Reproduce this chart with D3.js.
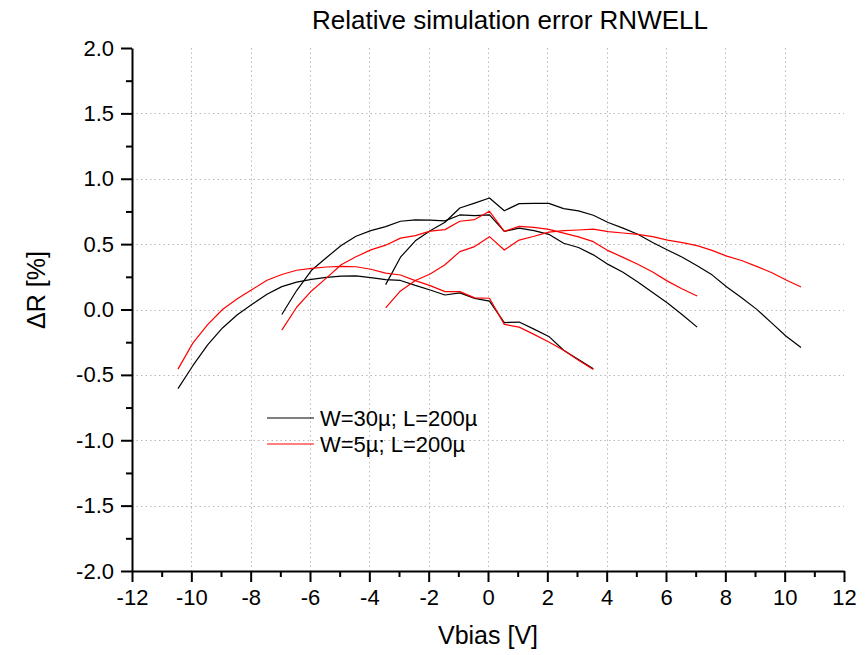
<!DOCTYPE html>
<html>
<head>
<meta charset="utf-8">
<script src="https://cdn.jsdelivr.net/npm/d3@7/dist/d3.min.js"></script>
<style>
  html, body { margin: 0; padding: 0; background: #fff; }
  svg { display: block; }
  text { font-family: "Liberation Sans", Arial, Helvetica, sans-serif; fill: #000; }
</style>
</head>
<body>
<svg id="chart" width="865" height="655"></svg>
<script>
// ---- data ----
const xA = [-10.45,-9.95,-9.45,-8.95,-8.45,-7.95,-7.45,-6.95,-6.45,-5.95,-5.45,-4.95,-4.45,-3.95,-3.45,-2.95,-2.45,-1.95,-1.45,-0.95,-0.45,0.05,0.55,1.05,1.55,2.05,2.55,3.05,3.55];
const xB = [-6.95,-6.45,-5.95,-5.45,-4.95,-4.45,-3.95,-3.45,-2.95,-2.45,-1.95,-1.45,-0.95,-0.45,0.05,0.55,1.05,1.55,2.05,2.55,3.05,3.55,4.05,4.55,5.05,5.55,6.05,6.55,7.05];
const xC = [-3.45,-2.95,-2.45,-1.95,-1.45,-0.95,-0.45,0.05,0.55,1.05,1.55,2.05,2.55,3.05,3.55,4.05,4.55,5.05,5.55,6.05,6.55,7.05,7.55,8.05,8.55,9.05,9.55,10.05,10.55];

// W=30µ (black)
const w30A = [-0.605,-0.43,-0.27,-0.141,-0.04,0.04,0.116,0.175,0.209,0.231,0.245,0.256,0.257,0.244,0.228,0.222,0.184,0.149,0.111,0.127,0.085,0.064,-0.10,-0.096,-0.15,-0.206,-0.312,-0.383,-0.454];
const w30B = [-0.038,0.145,0.30,0.396,0.49,0.56,0.603,0.634,0.675,0.686,0.683,0.678,0.723,0.718,0.723,0.597,0.623,0.603,0.575,0.507,0.474,0.418,0.345,0.285,0.21,0.13,0.05,-0.04,-0.135];
const w30C = [0.19,0.40,0.525,0.603,0.667,0.776,0.814,0.853,0.755,0.81,0.812,0.812,0.772,0.754,0.721,0.665,0.622,0.576,0.513,0.455,0.40,0.335,0.265,0.172,0.09,0.003,-0.10,-0.205,-0.29];
// W=5µ (red)
const w5A = [-0.456,-0.257,-0.116,0.0,0.083,0.153,0.224,0.268,0.30,0.315,0.325,0.33,0.327,0.308,0.278,0.264,0.221,0.183,0.137,0.137,0.089,0.086,-0.114,-0.135,-0.19,-0.249,-0.312,-0.388,-0.459];
const w5B = [-0.158,0.017,0.142,0.24,0.342,0.403,0.456,0.492,0.546,0.565,0.599,0.611,0.675,0.688,0.751,0.598,0.636,0.628,0.613,0.584,0.555,0.519,0.45,0.399,0.346,0.287,0.217,0.157,0.103];
const w5C = [0.013,0.142,0.222,0.272,0.342,0.443,0.481,0.557,0.455,0.531,0.56,0.592,0.603,0.608,0.615,0.595,0.585,0.575,0.557,0.53,0.512,0.488,0.452,0.408,0.375,0.33,0.283,0.225,0.172];

const xTicks = [-12,-10,-8,-6,-4,-2,0,2,4,6,8,10,12];
const xMinor = [-11,-9,-7,-5,-3,-1,1,3,5,7,9,11];
const yTicks = [-2.0,-1.5,-1.0,-0.5,0.0,0.5,1.0,1.5,2.0];
const yMinor = [-1.75,-1.25,-0.75,-0.25,0.25,0.75,1.25,1.75];

const seriesNames = ["W=30\u00b5; L=200\u00b5", "W=5\u00b5; L=200\u00b5"];
const seriesColors = ["#000000", "#ff0000"];

const titleText = "Relative simulation error RNWELL";
const xLabel = "Vbias [V]";
const yLabel = "\u0394R [%]";

// ---- layout ----
const L = 132, R = 844, T = 48, B = 571;
const svg = d3.select("#chart");
const x = d3.scaleLinear().domain([-12, 12]).range([L, R]);
const y = d3.scaleLinear().domain([-2, 2]).range([B, T]);

// grid
const grid = svg.append("g").attr("stroke", "#b8b8b8").attr("stroke-width", 1).attr("stroke-dasharray", "1.5,3");
grid.selectAll("line.v").data(xTicks.filter(d => d > -12 && d < 12)).join("line")
  .attr("x1", d => Math.round(x(d)) + 0.5).attr("x2", d => Math.round(x(d)) + 0.5)
  .attr("y1", T).attr("y2", B);
grid.selectAll("line.h").data(yTicks.filter(d => d > -2 && d < 2)).join("line")
  .attr("y1", d => Math.round(y(d)) + 0.5).attr("y2", d => Math.round(y(d)) + 0.5)
  .attr("x1", L).attr("x2", R);

// curves
const line = d3.line().x(d => x(d[0])).y(d => y(d[1]));
const curves = [
  {xs: xA, ys: w30A, s: 0}, {xs: xB, ys: w30B, s: 0}, {xs: xC, ys: w30C, s: 0},
  {xs: xA, ys: w5A, s: 1}, {xs: xB, ys: w5B, s: 1}, {xs: xC, ys: w5C, s: 1}
];
svg.append("g").selectAll("path").data(curves).join("path")
  .attr("fill", "none")
  .attr("stroke", d => seriesColors[d.s])
  .attr("stroke-width", 1.2)
  .attr("stroke-linejoin", "round")
  .attr("d", d => line(d.xs.map((v, i) => [v, d.ys[i]])));

// axes
const fmtX = d => String(d);
const fmtY = d => d.toFixed(1);
const xAxis = svg.append("g").attr("transform", `translate(0,${B})`)
  .call(d3.axisBottom(x).tickValues(xTicks).tickSize(11).tickSizeOuter(0).tickPadding(7).tickFormat(fmtX));
const xAxisMinor = svg.append("g").attr("transform", `translate(0,${B})`)
  .call(d3.axisBottom(x).tickValues(xMinor).tickSize(6).tickSizeOuter(0).tickFormat(""));
const yAxis = svg.append("g").attr("transform", `translate(${L},0)`)
  .call(d3.axisLeft(y).tickValues(yTicks).tickSize(11).tickSizeOuter(0).tickPadding(7).tickFormat(fmtY));
const yAxisMinor = svg.append("g").attr("transform", `translate(${L},0)`)
  .call(d3.axisLeft(y).tickValues(yMinor).tickSize(6).tickSizeOuter(0).tickFormat(""));
[xAxis, xAxisMinor, yAxis, yAxisMinor].forEach(g => {
  g.selectAll("path.domain").attr("stroke", "#000").attr("stroke-width", 2);
  g.selectAll(".tick line").attr("stroke", "#000").attr("stroke-width", 2);
  g.selectAll("text").attr("font-family", "Liberation Sans, Arial, sans-serif").attr("font-size", 22).attr("fill", "#000");
});
xAxisMinor.select("path.domain").remove();
yAxisMinor.select("path.domain").remove();

// titles
svg.append("text").attr("x", 510).attr("y", 29).attr("text-anchor", "middle")
  .attr("font-size", 26).text(titleText);
svg.append("text").attr("x", 488).attr("y", 644).attr("text-anchor", "middle")
  .attr("font-size", 25).text(xLabel);
svg.append("text").attr("transform", "translate(45,290) rotate(-90)").attr("text-anchor", "middle")
  .attr("font-size", 25).text(yLabel);

// legend
const leg = svg.append("g");
seriesNames.forEach((name, i) => {
  const ly = 418 + i * 26;
  leg.append("line").attr("x1", 267).attr("x2", 314).attr("y1", ly).attr("y2", ly)
    .attr("stroke", seriesColors[i]).attr("stroke-width", 1);
  leg.append("text").attr("x", 320).attr("y", ly + 8).attr("font-size", 22).text(name);
});
</script>
</body>
</html>
